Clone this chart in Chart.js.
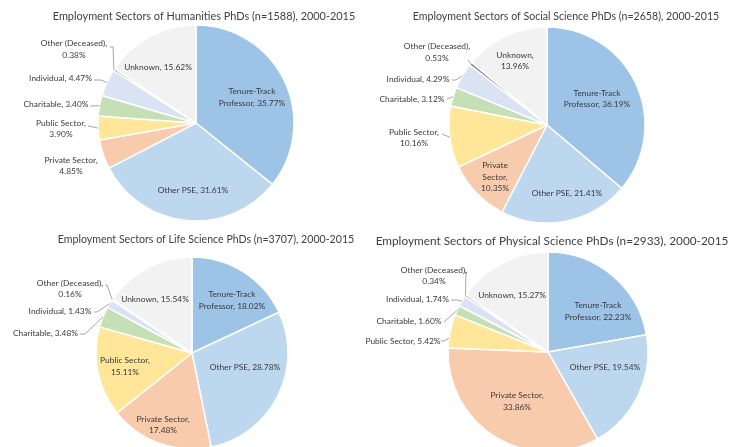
<!DOCTYPE html>
<html><head><meta charset="utf-8">
<script src="https://cdn.jsdelivr.net/npm/chart.js@4.4.1/dist/chart.umd.min.js"></script>
<style>
html,body{margin:0;padding:0;background:#fff;}
#wrap{position:relative;width:731px;height:447px;overflow:hidden;background:#fff;}
canvas{position:absolute;}
</style></head><body>
<div id="wrap">
<canvas id="c1" width="362" height="224" style="left:0;top:0"></canvas>
<canvas id="c2" width="369" height="224" style="left:362px;top:0"></canvas>
<canvas id="c3" width="362" height="240" style="left:0;top:224px"></canvas>
<canvas id="c4" width="369" height="240" style="left:362px;top:224px"></canvas>
</div>
<script>
// ---- data ----
const categories = ['Tenure-Track Professor','Other PSE','Private Sector','Public Sector','Charitable','Individual','Other (Deceased)','Unknown'];
const humanitiesValues = [35.77, 31.61, 4.85, 3.90, 3.40, 4.47, 0.38, 15.62];
const socialValues     = [36.19, 21.41, 10.35, 10.16, 3.12, 4.29, 0.53, 13.96];
const lifeValues       = [18.02, 28.78, 17.48, 15.11, 3.48, 1.43, 0.16, 15.54];
const physicalValues   = [22.23, 19.54, 33.86, 5.42, 1.60, 1.74, 0.34, 15.27];
const titles = [
  'Employment Sectors of Humanities PhDs (n=1588), 2000-2015',
  'Employment Sectors of Social Science PhDs (n=2658), 2000-2015',
  'Employment Sectors of Life Science PhDs (n=3707), 2000-2015',
  'Employment Sectors of Physical Science PhDs (n=2933), 2000-2015'
];
// ---- styles ----
const colors = ['#9DC3E6','#BDD7EE','#F8CBAD','#FFE699','#C5E0B4','#DAE3F3','#7F7F7F','#F2F2F2'];
const FONT = 'Lato';
const LABEL_SIZE = 8.4;
const LINE_H = 11.5;

// label layout per chart: offset of text block from pie centre, line breaks (word index), leader points
const layout1 = [
  {dx:56, dy:-25.5, br:[1]},
  {dx:-3, dy:67, br:[]},
  {dx:-125, dy:43, br:[2]},
  {dx:-135, dy:6, br:[2], lead:[[-108,3]]},
  {dx:-140, dy:-19, br:[], lead:[[-106,-17]]},
  {dx:-135.5, dy:-45, br:[], lead:[[-102,-43],[-95,-43]]},
  {dx:-122, dy:-73.5, br:[2], lead:[[-86,-76],[-83,-76]]},
  {dx:-38, dy:-56, br:[]}
];
const layout2 = [
  {dx:50, dy:-26, br:[1]},
  {dx:20, dy:68, br:[]},
  {dx:-52, dy:52, br:[1,2]},
  {dx:-133, dy:13, br:[2], lead:[[-105,9]]},
  {dx:-135, dy:-26, br:[], lead:[[-100,-26]]},
  {dx:-129, dy:-46, br:[], lead:[[-95,-45],[-91,-45]]},
  {dx:-110, dy:-72.5, br:[2], lead:[[-79,-65]]},
  {dx:-32, dy:-64, br:[1]}
];
const layout3 = [
  {dx:40, dy:-52.5, br:[1]},
  {dx:53, dy:14, br:[]},
  {dx:-29, dy:72, br:[2]},
  {dx:-67, dy:13.5, br:[2]},
  {dx:-146.5, dy:-20, br:[], lead:[[-112,-19],[-107,-19]]},
  {dx:-132, dy:-42, br:[], lead:[[-98,-41],[-95,-41]]},
  {dx:-122, dy:-64, br:[2], lead:[[-87,-68],[-85,-68]]},
  {dx:-37, dy:-54, br:[]}
];
const layout4 = [
  {dx:50, dy:-40.5, br:[1]},
  {dx:57, dy:15, br:[]},
  {dx:-31, dy:49.5, br:[2]},
  {dx:-145, dy:-11, br:[], lead:[[-107,-11],[-104,-11]], frac:0.29},
  {dx:-139, dy:-31, br:[], lead:[[-104,-30]]},
  {dx:-130.5, dy:-53, br:[], lead:[[-97,-52],[-91,-52]]},
  {dx:-114, dy:-76, br:[2], lead:[[-84,-80],[-82,-80]]},
  {dx:-36, dy:-57, br:[]}
];

const sliceLabels = {
  id:'sliceLabels',
  afterDraw(chart, args, opts){
    const ctx = chart.ctx;
    const meta = chart.getDatasetMeta(0);
    const vals = chart.data.datasets[0].data;
    ctx.save();
    // title
    ctx.font = opts.titleSize + 'px ' + FONT;
    ctx.fillStyle = '#404040';
    ctx.textAlign = 'center';
    ctx.textBaseline = 'middle';
    ctx.fillText(opts.title, opts.titleX, opts.titleY);
    // labels
    ctx.font = LABEL_SIZE + 'px ' + FONT;
    meta.data.forEach((arc, i) => {
      const it = opts.layout[i];
      const p = arc.getProps(['x','y','startAngle','endAngle','outerRadius'], true);
      const cx = p.x, cy = p.y;
      // leader
      if (it.lead) {
        const f = it.frac === undefined ? 0.5 : it.frac;
        const a = p.startAngle + f * (p.endAngle - p.startAngle);
        const ex = cx + Math.cos(a) * p.outerRadius, ey = cy + Math.sin(a) * p.outerRadius;
        ctx.beginPath();
        ctx.strokeStyle = '#A6A6A6';
        ctx.lineWidth = 1;
        ctx.moveTo(cx + it.lead[0][0], cy + it.lead[0][1]);
        for (let k = 1; k < it.lead.length; k++) ctx.lineTo(cx + it.lead[k][0], cy + it.lead[k][1]);
        ctx.lineTo(ex, ey);
        ctx.stroke();
      }
      const words = (chart.data.labels[i] + ', ' + vals[i].toFixed(2) + '%').split(' ');
      const lines = [];
      let cur = [];
      words.forEach((w, k) => {
        if (it.br.includes(k) && cur.length) { lines.push(cur.join(' ')); cur = []; }
        cur.push(w);
      });
      lines.push(cur.join(' '));
      ctx.fillStyle = '#3a3a3a';
      const y0 = cy + it.dy - (lines.length - 1) * LINE_H / 2;
      lines.forEach((ln, k) => ctx.fillText(ln, cx + it.dx, y0 + k * LINE_H));
    });
    ctx.restore();
  }
};

function makeChart(id, values, title, layout, g){
  const cv = document.getElementById(id);
  const W = cv.width, H = cv.height;
  return new Chart(cv, {
    type:'pie',
    data:{labels:categories, datasets:[{data:values, backgroundColor:colors, borderColor:'#ffffff', borderWidth:1.5, radius:g.r}]},
    options:{
      responsive:false, animation:false, events:[],
      layout:{padding:{left:g.cx-g.r, top:g.cy-g.r, right:W-g.cx-g.r, bottom:H-g.cy-g.r}},
      plugins:{legend:{display:false}, tooltip:{enabled:false},
        sliceLabels:{title:title, titleX:g.tx, titleY:g.ty, titleSize:g.ts, layout:layout}}
    },
    plugins:[sliceLabels]
  });
}

makeChart('c1', humanitiesValues, titles[0], layout1, {cx:196, cy:123, r:98, tx:204, ty:16, ts:10.9});
makeChart('c2', socialValues, titles[1], layout2, {cx:185, cy:125, r:98, tx:204, ty:17, ts:10.6});
makeChart('c3', lifeValues, titles[2], layout3, {cx:192, cy:129, r:96, tx:206, ty:16, ts:10.6});
makeChart('c4', physicalValues, titles[3], layout4, {cx:186, cy:128, r:100, tx:190, ty:17, ts:11.8});
</script>
</body></html>
